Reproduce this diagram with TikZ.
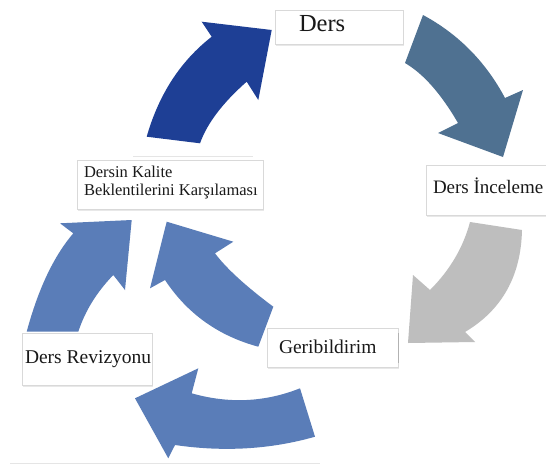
\documentclass[tikz,border=0pt]{standalone}
\usepackage{fontspec}
\setmainfont{Liberation Serif}
\usetikzlibrary{shadows}
\definecolor{darkblue}{HTML}{1E3F95}
\definecolor{steelblue}{HTML}{4F7191}
\definecolor{lightgrey}{HTML}{BEBEBE}
\definecolor{midblue}{HTML}{5A7DB8}
\tikzset{
  stepbox/.style={draw=gray!30, fill=white, line width=0.6pt, inner sep=0pt, outer sep=0pt,
    anchor=north west, drop shadow={opacity=0.18, shadow xshift=0.8pt, shadow yshift=-1.8pt}},
  lbl/.style={inner sep=0pt, outer sep=0pt, anchor=base west, text=black!90},
  faint/.style={draw=gray!20, line width=1pt}
}
\begin{document}
\begin{tikzpicture}[x=1pt,y=-1pt]
\useasboundingbox (0,0) rectangle (546,466);
\fill[white] (0,0) rectangle (546,466);
% arrows
\fill[darkblue] (146.7,136.7) .. controls (158.8,94.4) and (180.4,61.1) .. (211.7,36.7) -- (201.7,21.7) -- (271.7,30) -- (258.3,100) -- (246.7,81.7) .. controls (222.6,102.9) and (207.1,123.4) .. (200,143.3) -- cycle;
\fill[steelblue] (423,15) .. controls (458.3,34) and (485.7,61.7) .. (505,98) -- (523,90) -- (503,157) -- (438,133) -- (458,123) .. controls (441,93.7) and (423.3,73.7) .. (405,63) -- cycle;
\fill[lightgrey] (470,222) -- (522,230) .. controls (521,276) and (502,310) .. (465,332) -- (475,342) -- (408,343) -- (413,275) -- (430,290) .. controls (450,270) and (463.3,247.3) .. (470,222) -- cycle;
\fill[midblue] (26.7,331.7) .. controls (38.2,288.9) and (53.8,256.1) .. (73.3,233.3) -- (60,223.3) -- (131.7,220) -- (125,290) -- (113.3,275) .. controls (96.8,292) and (85.1,310.9) .. (78.3,331.7) -- cycle;
\fill[midblue] (166.7,221.7) -- (233.3,241.7) -- (215,253.3) .. controls (226.3,268.4) and (245.8,286.2) .. (273.3,306.7) -- (258.3,346.7) .. controls (218.4,335.9) and (187.3,313.7) .. (165,280) -- (150,288.3) -- cycle;
\fill[midblue] (300,388.3) .. controls (265,402.2) and (228.9,403.9) .. (191.7,393.3) -- (198.3,368.3) -- (135,398.3) -- (168.3,458.3) -- (175,445) .. controls (223.9,452.1) and (270.6,449.4) .. (315,436.7) -- cycle;
% faint edges
\coordinate (f1) at (133,156);
\coordinate (f2) at (253,156);
\coordinate (f3) at (10,463);
\coordinate (f4) at (320,463);
\draw[faint] (f1) -- (f2);
\draw[faint] (f3) -- (f4);
% boxes
\node[stepbox, minimum width=128pt, minimum height=34pt] (b1) at (275,10) {};
\node[stepbox, minimum width=186pt, minimum height=49pt] (b2) at (77,160) {};
\node[stepbox, minimum width=140pt, minimum height=50pt] (b3) at (426,165) {};
\node[stepbox, minimum width=130pt, minimum height=52pt] (b4) at (22,333) {};
\node[stepbox, minimum width=131pt, minimum height=39pt] (b5) at (267,328) {};
\coordinate (v1) at (398,333);
\coordinate (v2) at (398,363);
\draw[gray!60, line width=0.8pt] (v1) -- (v2);
% labels
\node[lbl, font=\fontsize{24.5}{28}\selectfont] (t1) at (299,31.7) {Ders};
\node[lbl, font=\fontsize{16.5}{18}\selectfont] (t2) at (84,177.3) {Dersin Kalite};
\node[lbl, font=\fontsize{16.5}{18}\selectfont] (t3) at (84,195) {Beklentilerini Karşılaması};
\node[lbl, font=\fontsize{19}{22}\selectfont] (t4) at (433,193.3) {Ders İnceleme};
\node[lbl, font=\fontsize{19.5}{22}\selectfont] (t5) at (25,363) {Ders Revizyonu};
\node[lbl, font=\fontsize{19.5}{22}\selectfont] (t6) at (279,353.3) {Geribildirim};
\end{tikzpicture}
\end{document}
